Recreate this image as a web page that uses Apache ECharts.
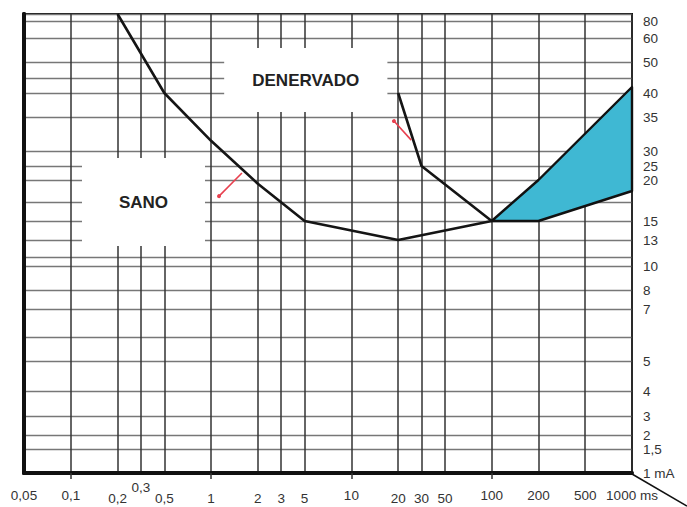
<!DOCTYPE html>
<html>
<head>
<meta charset="utf-8">
<script src="https://cdn.jsdelivr.net/npm/echarts@6/dist/echarts.min.js"></script>
<style>
  html, body { margin: 0; padding: 0; background: #fff; }
  #chart { width: 687px; height: 507px; }
</style>
</head>
<body>
<div id="chart"></div>
<script>
// duration axis (ms): hand drawn grid, 0.3 / 3 / 30 sit half way
const xTicks = [0.05, 0.1, 0.2, 0.3, 0.5, 1, 2, 3, 5, 10, 20, 30, 50, 100, 200, 500, 1000]
const xSteps = [0, 1, 2, 2.5, 3, 4, 5, 5.5, 6, 7, 8, 8.5, 9, 10, 11, 12, 13]
const xLabels = ['0,05', '0,1', '0,2', '0,3', '0,5', '1', '2', '3', '5', '10', '20', '30', '50', '100', '200', '500', '1000 ms']
const xRows = ['m', 'm', 'l', 'h', 'l', 'l', 'l', 'l', 'l', 'm', 'l', 'l', 'l', 'm', 'm', 'm', 'm']
const xMajor = [0.1, 1, 10, 100]

// intensity axis (mA): irregular scale too, some lines carry no label
const yTicks = [1, 1.5, 2, 3, 4, 5, 6, 7, 8, 10, 11, 13, 15, 17, 20, 25, 30, 35, 40, 45, 50, 60, 80, 90]
const ySteps = [0, 24, 38, 57, 82, 112, 136, 164, 183, 207, 216, 233, 252, 271, 293, 307, 322, 356, 380, 395, 411, 435, 452, 459]
const yLabelValues = [1, 1.5, 2, 3, 4, 5, 7, 8, 10, 13, 15, 20, 25, 30, 35, 40, 50, 60, 80]
const yLabelTexts = ['1 mA', '1,5', '2', '3', '4', '5', '7', '8', '10', '13', '15', '20', '25', '30', '35', '40', '50', '60', '80']

// curves
const sanoMs = [0.2, 0.5, 1, 2, 5, 20, 100]
const sanoMa = [90, 40, 31.5, 19.5, 15, 13, 15]
const denMs = [20, 30, 100]
const denMa = [40, 25, 15]
const bandMs = [100, 200, 1000]
const bandHigh = [15, 20, 42]
const bandLow = [15, 15, 18.5]

// red pointers: [from ms, from mA, dot ms, dot mA]
const pointers = [
  [1.66, 22.5, 1.17, 17.8],
  [25.6, 31.6, 19.1, 34.4]
]

function toStep(v, ticks, steps) {
  for (let i = 0; i < ticks.length - 1; i++) {
    if (v <= ticks[i + 1]) {
      const t = (v - ticks[i]) / (ticks[i + 1] - ticks[i])
      return steps[i] + t * (steps[i + 1] - steps[i])
    }
  }
  return steps[steps.length - 1]
}
const toX = v => toStep(v, xTicks, xSteps)
const toY = v => toStep(v, yTicks, ySteps)
const yLabelSteps = yLabelValues.map(toY)

function nearest(arr, v) {
  let best = 0
  arr.forEach((a, i) => { if (Math.abs(a - v) < Math.abs(arr[best] - v)) best = i })
  return best
}

const font = 'Liberation Sans, Arial, sans-serif'
const rowStyle = pad => ({ padding: [pad, 0, 0, 0], fontSize: 13.5, fontFamily: font, color: '#333' })
const chart = echarts.init(document.getElementById('chart'), null, { renderer: 'svg' })

chart.setOption({
  animation: false,
  grid: {
    left: 24, right: 55, top: 14, bottom: 34,
    outerBoundsMode: 'none', containLabel: false,
    show: true, borderColor: '#111', borderWidth: 2
  },
  xAxis: [{
    type: 'value', min: 0, max: 13, position: 'bottom',
    axisLine: { show: true, lineStyle: { color: '#111', width: 4 } },
    axisTick: { show: false, customValues: xSteps },
    splitLine: { show: true, lineStyle: { color: '#333', width: 1.5 } },
    axisLabel: {
      customValues: xSteps,
      margin: 7,
      color: '#333', fontSize: 13.5, fontFamily: font,
      formatter: v => {
        const i = nearest(xSteps, v)
        return '{' + xRows[i] + '|' + xLabels[i] + '}'
      },
      rich: { h: rowStyle(0), m: rowStyle(8), l: rowStyle(11) }
    }
  }, {
    type: 'value', min: 0, max: 13, position: 'bottom',
    axisLine: { show: false },
    axisTick: { show: true, customValues: xMajor.map(toX), length: 6, lineStyle: { color: '#333', width: 1.5 } },
    axisLabel: { show: false },
    splitLine: { show: false }
  }],
  yAxis: [{
    type: 'value', min: 0, max: 459, position: 'right',
    axisLine: { show: true, lineStyle: { color: '#111', width: 4 } },
    axisTick: { show: false, customValues: ySteps },
    splitLine: { show: true, lineStyle: { color: '#777', width: 1.4 } },
    axisLabel: {
      customValues: yLabelSteps,
      margin: 11,
      color: '#333', fontSize: 13.5, fontFamily: font,
      formatter: v => yLabelTexts[nearest(yLabelSteps, v)]
    }
  }, {
    type: 'value', min: 0, max: 459, position: 'left',
    axisLine: { show: true, lineStyle: { color: '#111', width: 4 } },
    axisTick: { show: false },
    axisLabel: { show: false },
    splitLine: { show: false }
  }],
  series: [
    {
      // white label boxes that cut the grid
      type: 'line', data: [], z: 1, silent: true,
      markArea: {
        silent: true,
        itemStyle: { color: '#fff' },
        label: {
          show: true, position: 'inside', color: '#222',
          fontSize: 17, fontWeight: 'bold', fontFamily: font
        },
        data: [
          [{ name: 'DENERVADO', xAxis: 4.28, yAxis: 361 }, { xAxis: 7.77, yAxis: 425 }],
          [{ name: 'SANO', xAxis: 1.24, yAxis: 227 }, { xAxis: 3.87, yAxis: 315 }]
        ]
      }
    },
    {
      type: 'custom', z: 3, silent: true,
      data: bandMs.map((m, i) => [toX(m), toY(bandHigh[i]), toY(bandLow[i])]),
      renderItem: (params, api) => {
        if (params.dataIndex !== 0) return
        const pts = []
        bandMs.forEach((m, i) => pts.push(api.coord([toX(m), toY(bandHigh[i])])))
        for (let i = bandMs.length - 1; i >= 0; i--) pts.push(api.coord([toX(bandMs[i]), toY(bandLow[i])]))
        return {
          type: 'polygon',
          shape: { points: pts },
          style: { fill: '#3fb8d3', stroke: '#111', lineWidth: 2.4, lineJoin: 'round' }
        }
      }
    },
    {
      name: 'Sano', type: 'line', z: 4, symbol: 'none', silent: true,
      data: sanoMs.map((m, i) => [toX(m), toY(sanoMa[i])]),
      lineStyle: { color: '#151515', width: 2.6 }
    },
    {
      name: 'Denervado', type: 'line', z: 4, symbol: 'none', silent: true,
      data: denMs.map((m, i) => [toX(m), toY(denMa[i])]),
      lineStyle: { color: '#151515', width: 2.6 }
    },
    {
      type: 'line', data: [], z: 5, silent: true,
      markLine: {
        silent: true,
        symbol: ['none', 'circle'],
        symbolSize: 4,
        label: { show: false },
        lineStyle: { color: '#e8404f', width: 1.6, type: 'solid' },
        data: pointers.map(p => [
          { coord: [toX(p[0]), toY(p[1])] },
          { coord: [toX(p[2]), toY(p[3])] }
        ])
      }
    }
  ]
})

// the axis line runs off diagonally past the corner
const corner = chart.convertToPixel({ gridIndex: 0 }, [13, 0])
chart.setOption({
  graphic: [{
    type: 'line', silent: true,
    shape: { x1: corner[0], y1: corner[1] + 1, x2: corner[0] + 55, y2: corner[1] + 33 },
    style: { stroke: '#111', lineWidth: 1.5 }
  }]
})
</script>
</body>
</html>
